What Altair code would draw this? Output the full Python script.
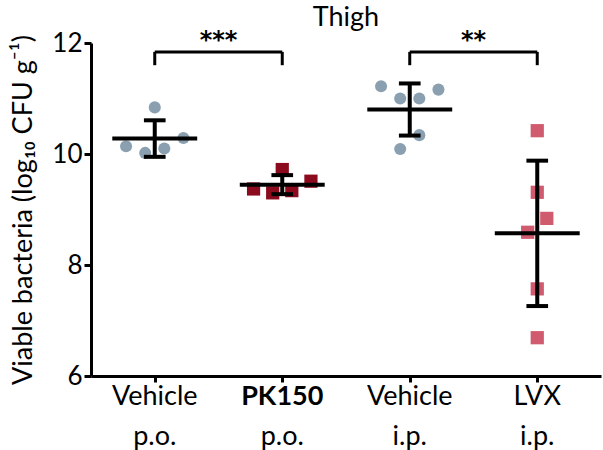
import altair as alt
import pandas as pd

# ---------------- data ----------------
group_names = ["Vehicle p.o.", "PK150 p.o.", "Vehicle i.p.", "LVX i.p."]
label_line1 = ["Vehicle", "PK150", "Vehicle", "LVX"]
label_line2 = ["p.o.", "p.o.", "i.p.", "i.p."]
group_shapes = ["circle", "square", "circle", "square"]
group_colors = ["#8aa0b0", "#8b0a1e", "#8aa0b0", "#d05a6e"]
chart_title = ["Thigh"]

veh_po_values = [10.84, 10.14, 10.02, 10.10, 10.29]
veh_po_jitter = [0.0, -0.225, -0.075, 0.075, 0.225]
pk150_values = [9.72, 9.37, 9.30, 9.34, 9.51]
pk150_jitter = [0.0, -0.225, -0.075, 0.075, 0.225]
veh_ip_values = [11.22, 11.00, 11.00, 11.16, 10.34, 10.09]
veh_ip_jitter = [-0.225, -0.075, 0.075, 0.225, 0.075, -0.075]
lvx_values = [10.42, 9.31, 8.84, 8.59, 7.57, 6.69]
lvx_jitter = [0.0, 0.0, 0.075, -0.075, 0.0, 0.0]

sig_left = [0, 2]
sig_right = [1, 3]
sig_text = ["***", "**"]

all_values = [veh_po_values, pk150_values, veh_ip_values, lvx_values]
all_jitter = [veh_po_jitter, pk150_jitter, veh_ip_jitter, lvx_jitter]

rows = []
for i, (vals, jit) in enumerate(zip(all_values, all_jitter)):
    for v, j in zip(vals, jit):
        rows.append({"group": group_names[i], "idx": i, "value": v,
                     "xpos": i + j, "shape": group_shapes[i]})
points = pd.DataFrame(rows)

cats = pd.DataFrame({"idx": list(range(4)), "l1": label_line1, "l2": label_line2})
sig = pd.DataFrame({"a": sig_left, "b": sig_right, "t": sig_text})

FONT = "Lato"
FS = 27
W, H = 510, 333

xscale = alt.Scale(domain=[-0.5, 3.5], nice=False, zero=False)
yscale = alt.Scale(domain=[6, 12], nice=False, zero=False)
xaxis = alt.Axis(values=[0, 1, 2, 3], labels=False, title=None, grid=False,
                 tickSize=6, tickWidth=3, domainWidth=3,
                 domainColor="black", tickColor="black")
yaxis = alt.Axis(values=[6, 8, 10, 12], grid=False, tickSize=7, tickWidth=3,
                 domainWidth=3, domainColor="black", tickColor="black",
                 labelFontSize=26, labelFont=FONT, labelColor="black",
                 labelPadding=2, title="Viable bacteria (log₁₀ CFU g⁻¹)",
                 titleFont=FONT, titleFontSize=FS, titleFontWeight="normal",
                 titleColor="black", titlePadding=14)

X = lambda f: alt.X(f, type="quantitative", scale=xscale, axis=xaxis)
Y = lambda f: alt.Y(f, type="quantitative", scale=yscale, axis=yaxis)

pts = alt.Chart(points).mark_point(filled=True, opacity=1, strokeWidth=0).encode(
    x=X("xpos"),
    y=Y("value"),
    shape=alt.Shape("shape:N", scale=alt.Scale(domain=["circle", "square"],
                                                range=["circle", "square"]), legend=None),
    color=alt.Color("group:N", scale=alt.Scale(domain=group_names, range=group_colors),
                    legend=None),
    size=alt.condition("datum.shape == 'circle'", alt.value(145), alt.value(175)),
)

stats = alt.Chart(points).transform_aggregate(
    m="mean(value)", s="stdev(value)", groupby=["idx"]
).transform_calculate(
    lo="datum.m - datum.s", hi="datum.m + datum.s",
    xl="datum.idx - 0.333", xr="datum.idx + 0.333",
    cl="datum.idx - 0.085", cr="datum.idx + 0.085",
)

mean_line = stats.mark_rule(color="black", strokeWidth=4).encode(
    x=X("xl"), x2="xr:Q", y=Y("m"))
err_line = stats.mark_rule(color="black", strokeWidth=4).encode(
    x=X("idx"), y=Y("lo"), y2="hi:Q")
cap_lo = stats.mark_rule(color="black", strokeWidth=4).encode(
    x=X("cl"), x2="cr:Q", y=Y("lo"))
cap_hi = stats.mark_rule(color="black", strokeWidth=4).encode(
    x=X("cl"), x2="cr:Q", y=Y("hi"))

sigbase = alt.Chart(sig).transform_calculate(top="11.84", bot="11.6", ty="12.03",
                                              mid="(datum.a + datum.b) / 2")
br_h = sigbase.mark_rule(color="black", strokeWidth=3).encode(
    x=X("a"), x2="b:Q", y=Y("top"))
br_l = sigbase.mark_rule(color="black", strokeWidth=3).encode(
    x=X("a"), y=Y("top"), y2="bot:Q")
br_r = sigbase.mark_rule(color="black", strokeWidth=3).encode(
    x=X("b"), y=Y("top"), y2="bot:Q")
stars = sigbase.mark_text(font="DejaVu Sans", fontSize=24, fontWeight="bold",
                          baseline="middle", color="black").encode(
    x=X("mid"), y=Y("ty"), text="t:N")

lab1_norm = alt.Chart(cats).transform_filter("datum.idx != 1").mark_text(
    font=FONT, fontSize=FS, baseline="middle", color="black").encode(
    x=X("idx"), y=alt.value(354), text="l1:N")
lab1_bold = alt.Chart(cats).transform_filter("datum.idx == 1").mark_text(
    font=FONT, fontSize=FS, fontWeight="bold", baseline="middle", color="black").encode(
    x=X("idx"), y=alt.value(354), text="l1:N")
lab2 = alt.Chart(cats).mark_text(
    font=FONT, fontSize=FS, baseline="middle", color="black").encode(
    x=X("idx"), y=alt.value(394), text="l2:N")

title_mark = alt.Chart(pd.DataFrame({"t": chart_title})).mark_text(
    font=FONT, fontSize=FS, baseline="middle", color="black").encode(
    x=alt.value(W / 2), y=alt.value(-25), text="t:N")

chart = alt.layer(
    pts, mean_line, err_line, cap_lo, cap_hi, br_h, br_l, br_r, stars,
    lab1_norm, lab1_bold, lab2, title_mark
).properties(
    width=W, height=H,
    autosize=alt.AutoSizeParams(type="none"),
    padding={"left": 91, "top": 43, "right": 2, "bottom": 74},
    background="white",
).configure_view(stroke=None)

chart.save("out.html", embed_options={"renderer": "svg", "actions": False})
